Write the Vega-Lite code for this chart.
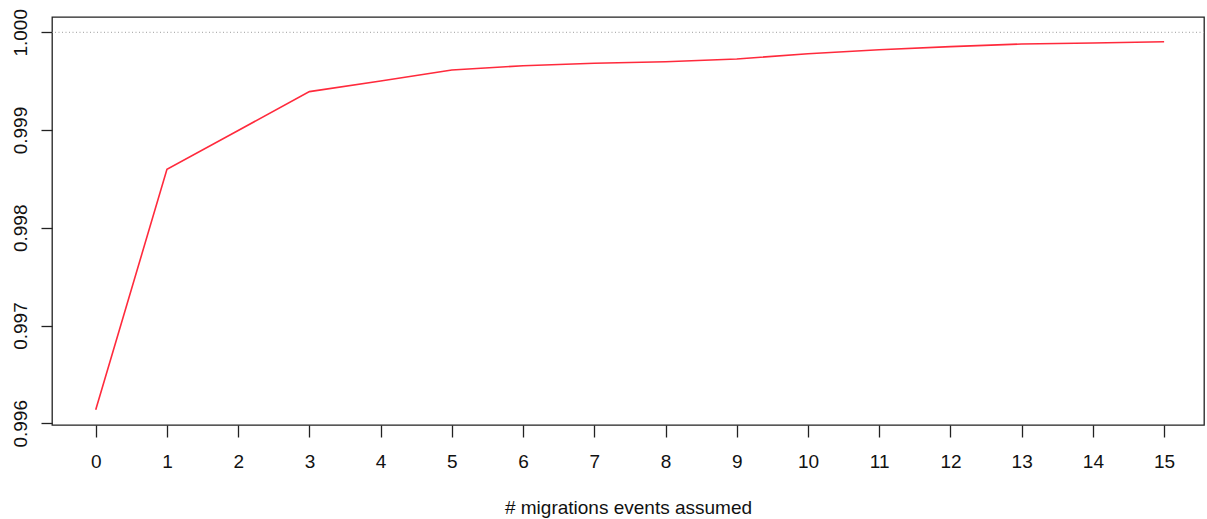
{
  "$schema": "https://vega.github.io/schema/vega-lite/v6.json",
  "width": 1152,
  "height": 408,
  "autosize": {"type": "none"},
  "padding": {"left": 52, "top": 17, "right": 3, "bottom": 94},
  "background": "white",
  "config": {
    "view": {"stroke": "#222", "strokeWidth": 1.3},
    "font": "Liberation Sans",
    "axis": {"grid": false, "domain": false, "tickColor": "#222", "tickWidth": 1.3, "labelColor": "#111", "labelFontSize": 19, "titleFontSize": 19, "titleFontWeight": "normal", "titleColor": "#111", "labelFont": "Liberation Sans", "titleFont": "Liberation Sans"}
  },
  "data": {
    "values": [
      {"events": 0, "value": 0.996138},
      {"events": 1, "value": 0.998599},
      {"events": 2, "value": 0.998996},
      {"events": 3, "value": 0.999393},
      {"events": 4, "value": 0.999502},
      {"events": 5, "value": 0.999615},
      {"events": 6, "value": 0.999658},
      {"events": 7, "value": 0.999683},
      {"events": 8, "value": 0.999699},
      {"events": 9, "value": 0.999727},
      {"events": 10, "value": 0.999781},
      {"events": 11, "value": 0.999822},
      {"events": 12, "value": 0.999853},
      {"events": 13, "value": 0.99988},
      {"events": 14, "value": 0.999891},
      {"events": 15, "value": 0.999904}
    ]
  },
  "layer": [
    {
      "data": {"values": [{"ref": 1.0}]},
      "mark": {"type": "rule", "color": "#b0b0b0", "strokeDash": [1, 2.5], "strokeWidth": 1.2},
      "encoding": {"y": {"field": "ref", "type": "quantitative", "scale": {"domain": [0.995983, 1.0001565], "nice": false, "zero": false}}}
    },
    {
      "mark": {"type": "line", "color": "#ff2a3c", "strokeWidth": 1.6},
      "encoding": {
        "x": {
          "field": "events",
          "type": "quantitative",
          "title": "# migrations events assumed",
          "scale": {"domain": [-0.614, 15.56], "nice": false, "zero": false},
          "axis": {"values": [0,1,2,3,4,5,6,7,8,9,10,11,12,13,14,15], "tickSize": 12, "labelPadding": 30, "labelBaseline": "alphabetic", "labelFlush": false, "labelOverlap": false, "titleBaseline": "alphabetic", "titleY": 88, "titleAnchor": "middle"}
        },
        "y": {
          "field": "value",
          "type": "quantitative",
          "title": null,
          "scale": {"domain": [0.995983, 1.0001565], "nice": false, "zero": false},
          "axis": {"values": [0.996, 0.997, 0.998, 0.999, 1.0], "format": ".3f", "tickSize": 11, "labelPadding": 15, "labelAngle": -90, "labelAlign": "center", "labelBaseline": "alphabetic", "labelFlush": false, "labelOverlap": false}
        }
      }
    }
  ]
}
